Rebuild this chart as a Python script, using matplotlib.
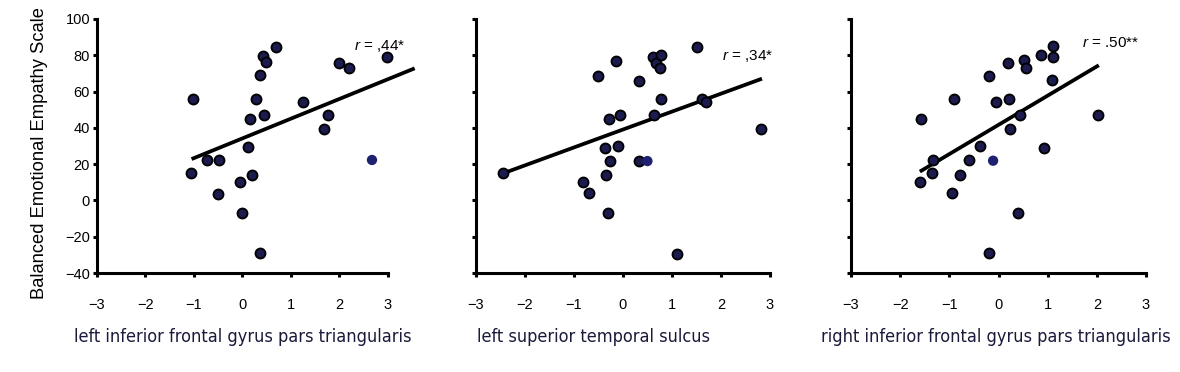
import matplotlib
matplotlib.use("Agg")
import matplotlib.pyplot as plt

# ---- data ----
y_label = "Balanced Emotional Empathy Scale"
x_labels = ["left inferior frontal gyrus pars triangularis",
            "left superior temporal sulcus",
            "right inferior frontal gyrus pars triangularis"]
r_texts = [",44*", ",34*", ".50**"]

x_ticks = [-3, -2, -1, 0, 1, 2, 3]
y_ticks = [-40, -20, 0, 20, 40, 60, 80, 100]

# panel 1
p1_x = [-1.03, -1.06, -0.73, -0.49, -0.51, -0.05, 0.0, 0.12, 0.155, 0.2, 0.28, 0.36,
        0.43, 0.48, 0.44, 0.36, 0.70, 1.24, 1.68, 1.77, 1.99, 2.2, 2.99]
p1_y = [56.1, 15.3, 22.3, 22.3, 3.7, 10.0, -6.7, 29.6, 44.9, 14.2, 56.1, 69.0,
        79.8, 76.5, 47.1, -28.8, 84.8, 54.1, 39.2, 47.1, 75.9, 72.8, 78.9]
p1_extra_x = [2.67]
p1_extra_y = [22.3]
p1_fit_x = [-1.05, 3.55]
p1_fit_y = [22.8, 72.8]

# panel 2
p2_x = [-2.45, -0.82, -0.69, -0.5, -0.37, -0.34, -0.31, -0.29, -0.26, -0.15, -0.10, -0.06,
        0.32, 0.32, 0.62, 0.67, 0.77, 0.75, 0.77, 0.63, 1.10, 1.52, 1.61, 1.70, 2.81]
p2_y = [14.9, 10.2, 4.1, 68.6, 28.9, 13.8, -7.1, 45.1, 21.7, 76.9, 30.2, 47.1,
        21.7, 66.0, 79.1, 75.7, 80.0, 72.8, 55.7, 47.3, -29.3, 84.8, 55.9, 54.4, 39.2]
p2_extra_x = [0.50]
p2_extra_y = [21.7]
p2_fit_x = [-2.45, 2.84]
p2_fit_y = [14.9, 67.1]

# panel 3
p3_x = [-1.57, -1.59, -1.33, -1.35, -0.94, -0.91, -0.78, -0.61, -0.37, -0.20, -0.19, -0.06,
        0.19, 0.21, 0.23, 0.40, 0.44, 0.51, 0.56, 0.87, 0.93, 1.09, 1.11, 1.11, 2.02]
p3_y = [45.1, 10.2, 22.3, 14.9, 4.1, 55.7, 13.8, 22.1, 30.2, 68.6, -29.2, 54.4,
        75.7, 55.7, 39.2, -7.1, 47.3, 77.2, 73.0, 80.2, 29.1, 66.4, 84.9, 78.9, 47.3]
p3_extra_x = [-0.11]
p3_extra_y = [21.9]
p3_fit_x = [-1.60, 2.04]
p3_fit_y = [15.9, 74.5]

r_pos_x = [2.83, 2.55, 2.28]
r_pos_y = [85.1, 79.6, 86.8]

panels = [
    (p1_x, p1_y, p1_extra_x, p1_extra_y, p1_fit_x, p1_fit_y),
    (p2_x, p2_y, p2_extra_x, p2_extra_y, p2_fit_x, p2_fit_y),
    (p3_x, p3_y, p3_extra_x, p3_extra_y, p3_fit_x, p3_fit_y),
]

plt.rcParams['font.family'] = ['Liberation Sans', 'DejaVu Sans']
plt.rcParams['mathtext.fontset'] = 'custom'
plt.rcParams['mathtext.it'] = 'Liberation Sans:italic'
plt.rcParams['mathtext.rm'] = 'Liberation Sans'

fig = plt.figure(figsize=(11.8, 3.72), dpi=100)

# axes boxes (left, bottom, width, height)
lefts = [0.0822, 0.4034, 0.7212]
widths = [0.2466, 0.2490, 0.2500]
label_x = [0.5, 0.40, 0.49]

navy = '#1b1b4d'
for i, (xs, ys, ex, ey, fx, fy) in enumerate(panels):
    ax = fig.add_axes([lefts[i], 0.266, widths[i], 0.683])
    ax.set_xlim(-3, 3)
    ax.set_ylim(-40, 100)
    for s in ['top', 'right']:
        ax.spines[s].set_visible(False)
    for s in ['left', 'bottom']:
        ax.spines[s].set_linewidth(2.2)
    ax.set_xticks(x_ticks)
    ax.set_yticks(y_ticks)
    ax.tick_params(axis='both', width=2.2, length=3, labelsize=10.5, colors='black')
    ax.tick_params(axis='x', pad=15)
    ax.tick_params(axis='y', pad=2)
    if i > 0:
        ax.set_yticklabels([])
    else:
        ax.set_ylabel(y_label, fontsize=13.2, va='center')
        ax.yaxis.set_label_coords(-0.197, 0.472)

    ax.plot(fx, fy, color='black', lw=2.7, solid_capstyle='butt', clip_on=False, zorder=2)
    ax.scatter(xs, ys, s=52, color=navy, edgecolors='black', linewidths=1.3,
               clip_on=False, zorder=3)
    ax.scatter(ex, ey, s=55, color='#1f2070', edgecolors='none', clip_on=False, zorder=3)

    ax.text(r_pos_x[i], r_pos_y[i], r'$\it{r}$ = ' + r_texts[i], fontsize=11,
            ha='center', va='center')

    ax.set_xlabel(x_labels[i], family='DejaVu Sans', fontstretch='condensed',
                  fontsize=13, color='#1a1a3a', va='center')
    ax.xaxis.set_label_coords(label_x[i], -0.25)

fig.savefig('out.png', dpi=100)
